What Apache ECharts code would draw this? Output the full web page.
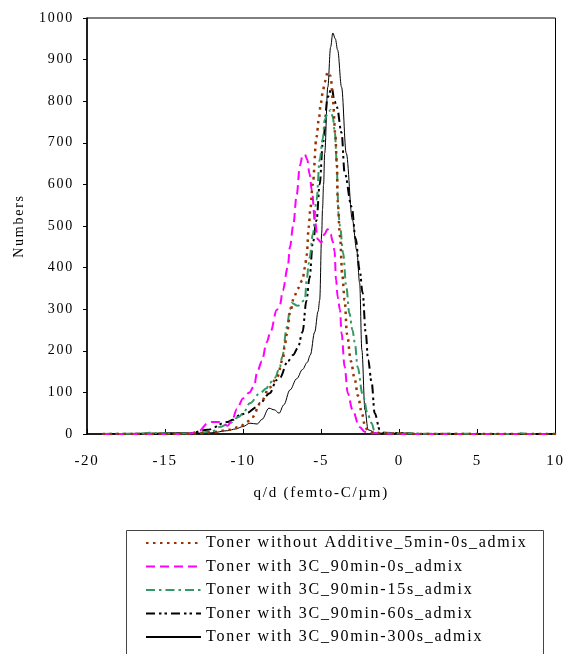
<!DOCTYPE html>
<html>
<head>
<meta charset="utf-8">
<script src="https://cdn.jsdelivr.net/npm/echarts@6/dist/echarts.min.js"></script>
<style>
html,body{margin:0;padding:0;background:#fff;}
#chart{width:566px;height:654px;}
</style>
</head>
<body>
<div id="chart"></div>
<script>
const seriesNames = [
  'Toner without Additive_5min-0s_admix',
  'Toner with 3C_90min-0s_admix',
  'Toner with 3C_90min-15s_admix',
  'Toner with 3C_90min-60s_admix',
  'Toner with 3C_90min-300s_admix'
];
const xTicks = [-20, -15, -10, -5, 0, 5, 10];
const yTicks = [0, 100, 200, 300, 400, 500, 600, 700, 800, 900, 1000];

// Toner without Additive_5min-0s
const qNoAdd = [-19, -15, -13, -12, -10.9, -10.2, -9.8, -9.4, -8.9, -8.3, -7.85, -7.45, -7.35, -7.2, -7.0, -6.75, -6.5, -6.2, -6.05, -5.93, -5.8, -5.7, -5.55, -5.3, -5.16, -5.03, -4.9, -4.78, -4.58, -4.4, -4.25, -4.1, -4.0, -3.95, -3.8, -3.65, -3.5, -3.35, -3.1, -2.85, -2.65, -2.4, -2.2, -2.0, -1.5, 0, 1, 10];
const nNoAdd = [0, 0, 1, 4, 10, 17, 28, 41, 74, 112, 135, 180, 210, 240, 290, 328, 350, 370, 400, 430, 498, 540, 600, 714, 755, 795, 822, 846, 870, 860, 800, 720, 650, 560, 475, 380, 322, 240, 175, 130, 92, 50, 20, 6, 2, 1, 0, 0];

// Toner with 3C_90min-0s
const q0s = [-19, -14, -13.4, -12.8, -12.3, -12.0, -11.6, -11.0, -10.7, -10.4, -10.0, -9.6, -9.3, -9.1, -8.8, -8.5, -8.25, -7.85, -7.65, -7.46, -7.15, -7.0, -6.8, -6.57, -6.37, -6.2, -6.05, -5.9, -5.75, -5.6, -5.4, -5.22, -5.0, -4.8, -4.6, -4.4, -4.26, -4.15, -4.05, -3.95, -3.8, -3.7, -3.5, -3.3, -3.0, -2.55, -2.2, -1.8, 0, 10];
const n0s = [0, 0, 1, 8, 25, 29, 29, 20, 34, 60, 86, 100, 115, 150, 175, 220, 245, 298, 310, 345, 400, 450, 500, 575, 645, 668, 672, 660, 625, 585, 510, 468, 460, 480, 492, 480, 462, 440, 370, 330, 298, 243, 161, 98, 58, 17, 5, 2, 0, 0];

// Toner with 3C_90min-15s
const q15s = [-19, -16.5, -16, -15.5, -14, -13, -12, -11.5, -10.85, -10.3, -10.0, -9.57, -8.93, -8.5, -8.3, -7.97, -7.65, -7.5, -7.2, -7.0, -6.9, -6.5, -6.05, -5.93, -5.8, -5.74, -5.54, -5.3, -5.1, -4.9, -4.78, -4.6, -4.4, -4.26, -4.13, -4.0, -3.95, -3.9, -3.8, -3.6, -3.4, -3.2, -3.0, -2.85, -2.67, -2.35, -2.0, -1.77, -1.6, -1.3, 0, 7.5, 7.8, 8.1, 10];
const n15s = [0, 1, 3, 2, 1, 2, 6, 17, 26, 41, 50, 74, 98, 110, 123, 135, 161, 185, 257, 300, 315, 308, 322, 370, 410, 425, 480, 562, 659, 710, 755, 770, 779, 762, 724, 650, 579, 530, 500, 435, 355, 290, 250, 220, 161, 95, 45, 26, 8, 3, 1, 0, 2, 0, 0];

// Toner with 3C_90min-60s
const q60s = [-19, -14, -13.4, -12.3, -11.0, -10.66, -10.2, -9.8, -9.1, -8.93, -8.3, -7.85, -7.65, -7.14, -6.8, -6.5, -6.2, -5.95, -5.75, -5.54, -5.3, -5.1, -4.9, -4.58, -4.33, -4.15, -4.0, -3.7, -3.5, -3.05, -2.8, -2.54, -2.35, -2.15, -2.0, -1.77, -1.58, -1.25, -1.0, 0, 1, 10];
const n60s = [0, 0, 2, 10, 29, 34, 46, 50, 65, 74, 98, 130, 135, 175, 190, 207, 245, 320, 375, 460, 514, 600, 700, 810, 832, 800, 786, 724, 627, 546, 470, 394, 339, 243, 178, 123, 50, 10, 3, 2, 0, 0];

// Toner with 3C_90min-300s
const q300s = [-19, -15.5, -15, -14, -13, -12, -11, -10.5, -10, -9.57, -9.1, -8.8, -8.35, -8.0, -7.7, -7.4, -7.0, -6.57, -6.2, -5.9, -5.7, -5.42, -5.2, -5.1, -4.97, -4.92, -4.85, -4.78, -4.58, -4.4, -4.26, -4.1, -3.95, -3.7, -3.4, -3.0, -2.73, -2.54, -2.4, -2.2, -2.0, -1.45, 0, 0.8, 1.2, 10];
const n300s = [0, 2, 3, 3, 2, 3, 8, 12, 18, 26, 24, 35, 62, 58, 50, 70, 106, 133, 155, 172, 190, 245, 295, 322, 483, 540, 600, 675, 834, 930, 964, 950, 923, 834, 675, 514, 442, 363, 202, 58, 10, 2, 2, 2, 0, 0];

const qs = [qNoAdd, q0s, q15s, q60s, q300s];
const ns = [nNoAdd, n0s, n15s, n60s, n300s];

const colors = ['#993300', '#FF00FF', '#339966', '#000000', '#000000'];
const dashes = [[2.5, 4.5], [9, 5], [9, 4, 2.5, 4], [9, 4, 2.5, 3, 2.5, 4], 'solid'];
const widths = [2.5, 2, 2, 2, 1];

const serif = "'Liberation Serif', 'Times New Roman', serif";

// emulate the wide letter spacing of the original text
(function () {
  const proto = CanvasRenderingContext2D.prototype;
  const orig = proto.fillText;
  proto.fillText = function (t, x, y, m) {
    try { this.letterSpacing = '1.75px'; } catch (e) {}
    const r = m === undefined ? orig.call(this, t, x, y) : orig.call(this, t, x, y, m);
    try { this.letterSpacing = '0px'; } catch (e) {}
    return r;
  };
})();

const series = seriesNames.map((name, i) => ({
  name: name,
  type: 'line',
  data: qs[i].map((q, j) => [q, ns[i][j]]),
  symbol: 'none',
  smooth: 0.35,
  smoothMonotone: 'x',
  color: colors[i],
  lineStyle: { color: colors[i], width: widths[i], type: dashes[i], cap: 'butt' },
  z: 5 - i
}));

const chart = echarts.init(document.getElementById('chart'), null, { renderer: 'canvas' });
chart.setOption({
  animation: false,
  backgroundColor: '#fff',
  grid: { left: 87, right: 10, top: 18, bottom: 220, show: true, borderColor: '#000', borderWidth: 1, backgroundColor: 'transparent' },
  xAxis: {
    type: 'value', min: xTicks[0], max: xTicks[xTicks.length - 1], interval: 5,
    name: 'q/d (femto-C/\u00b5m)', nameLocation: 'middle', nameGap: 52,
    nameTextStyle: { fontFamily: serif, fontSize: 15, color: '#000' },
    axisLine: { onZero: false, lineStyle: { color: '#000', width: 1.5 } },
    axisTick: { show: true, inside: true, length: 5, lineStyle: { color: '#000' } },
    axisLabel: { fontFamily: serif, fontSize: 15, color: '#000', margin: 20, formatter: v => String(v) },
    splitLine: { show: false }
  },
  yAxis: {
    type: 'value', min: yTicks[0], max: yTicks[yTicks.length - 1], interval: 100,
    name: 'Numbers', nameLocation: 'middle', nameGap: 61, nameRotate: 90,
    nameTextStyle: { fontFamily: serif, fontSize: 14, color: '#000' },
    axisLine: { onZero: false, lineStyle: { color: '#000', width: 1.5 } },
    axisTick: { show: true, inside: false, length: 4, lineStyle: { color: '#000' } },
    axisLabel: { fontFamily: serif, fontSize: 14, color: '#000', margin: 13, formatter: v => String(v) },
    splitLine: { show: false }
  },
  legend: {
    orient: 'vertical', left: 145, top: 535, padding: 0,
    itemWidth: 55, itemHeight: 14, itemGap: 7.5,
    data: seriesNames,
    itemStyle: { opacity: 0 },
    textStyle: { fontFamily: serif, fontSize: 16, color: '#000', lineHeight: 16 },
    selectedMode: false
  },
  graphic: [{
    type: 'rect', shape: { x: 126.5, y: 530.5, width: 417, height: 130 },
    style: { fill: 'none', stroke: '#444', lineWidth: 1 }, silent: true
  }],
  series: series
});
</script>
</body>
</html>
